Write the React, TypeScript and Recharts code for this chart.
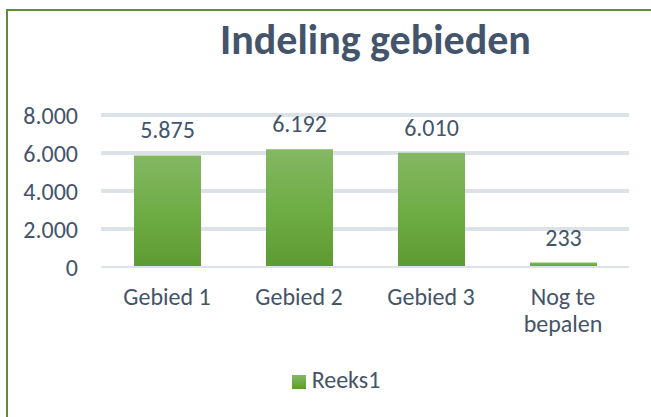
import React from 'react';
import {
  BarChart,
  Bar,
  XAxis,
  YAxis,
  CartesianGrid,
  Legend,
  LabelList
} from 'recharts';

// Categories and values
const categories = ['Gebied 1', 'Gebied 2', 'Gebied 3', 'Nog te bepalen'];
const values = [5875, 6192, 6010, 233];
const yTicks = [0, 2000, 4000, 6000, 8000];

const data = categories.map((name, i) => ({ name, Reeks1: values[i] }));

const FONT = "Carlito, Calibri, 'Open Sans', sans-serif";
const TEXT = '#44546a';

// Dutch thousands separator: 8000 -> 8.000
const fmt = (v: number) => v.toLocaleString('nl-NL');

// greedy word wrap, max ~10 chars per line
const wrap = (s: string, max = 10) => {
  const lines: string[] = [];
  let cur = '';
  s.split(' ').forEach((w) => {
    const next = cur ? cur + ' ' + w : w;
    if (next.length > max && cur) {
      lines.push(cur);
      cur = w;
    } else {
      cur = next;
    }
  });
  if (cur) lines.push(cur);
  return lines;
};

const XTick = (props: any) => {
  const { x, y, payload } = props;
  const lines = wrap(String(payload.value));
  return (
    <text x={x} y={y} textAnchor="middle" fill={TEXT} fontSize={24} fontFamily={FONT}>
      {lines.map((l, i) => (
        <tspan key={i} x={x} dy={i === 0 ? '0.71em' : 27}>
          {l}
        </tspan>
      ))}
    </text>
  );
};

const App = () => (
  <div style={{ position: 'absolute', left: 0, top: 0, width: 651, height: 417, background: '#fff' }}>
    <div
      style={{
        position: 'absolute',
        left: 6,
        top: 9,
        width: 645,
        height: 408,
        borderLeft: '2px solid #5f8f35',
        borderTop: '2px solid #5f8f35'
      }}
    />
    <div
      style={{
        position: 'absolute',
        left: 100,
        width: 551,
        top: 14,
        textAlign: 'center',
        fontFamily: FONT,
        fontWeight: 'bold',
        fontSize: 42,
        color: TEXT
      }}
    >
      Indeling gebieden
    </div>
    <div style={{ position: 'absolute', left: 0, top: 0 }}>
      <BarChart
        width={651}
        height={417}
        data={data}
        margin={{ top: 115, right: 22, bottom: 40, left: 11 }}
      >
        <defs>
          <linearGradient id="barFill" x1="0" y1="0" x2="0" y2="1">
            <stop offset="0%" stopColor="#84b763" />
            <stop offset="50%" stopColor="#6fad45" />
            <stop offset="100%" stopColor="#5e9a32" />
          </linearGradient>
        </defs>
        <CartesianGrid
          vertical={false}
          horizontalValues={[2000, 4000, 6000, 8000]}
          stroke="#dde2e9"
          strokeWidth={4}
        />
        <XAxis
          dataKey="name"
          interval={0}
          height={70}
          tickLine={false}
          axisLine={{ stroke: '#dde2e9', strokeWidth: 2 }}
          tickMargin={15}
          tick={<XTick />}
        />
        <YAxis
          width={90}
          domain={[0, 8000]}
          ticks={yTicks}
          interval={0}
          tickFormatter={fmt}
          axisLine={false}
          tickLine={false}
          tickMargin={17}
          tick={{ fill: TEXT, fontSize: 24, fontFamily: FONT }}
        />
        <Legend
          verticalAlign="bottom"
          height={40}
          iconType="square"
          iconSize={14}
          wrapperStyle={{ fontFamily: FONT, fontSize: 24, top: 365, left: 32 }}
          formatter={(v: string) => <span style={{ color: TEXT, marginLeft: 2 }}>{v}</span>}
        />
        <Bar dataKey="Reeks1" fill="url(#barFill)" barSize={67} isAnimationActive={false} legendType="square">
          <LabelList
            dataKey="Reeks1"
            position="top"
            offset={17}
            formatter={(v: any) => fmt(Number(v))}
            style={{ fill: TEXT, fontSize: 24, fontFamily: FONT }}
          />
        </Bar>
      </BarChart>
    </div>
  </div>
);

export default App;
